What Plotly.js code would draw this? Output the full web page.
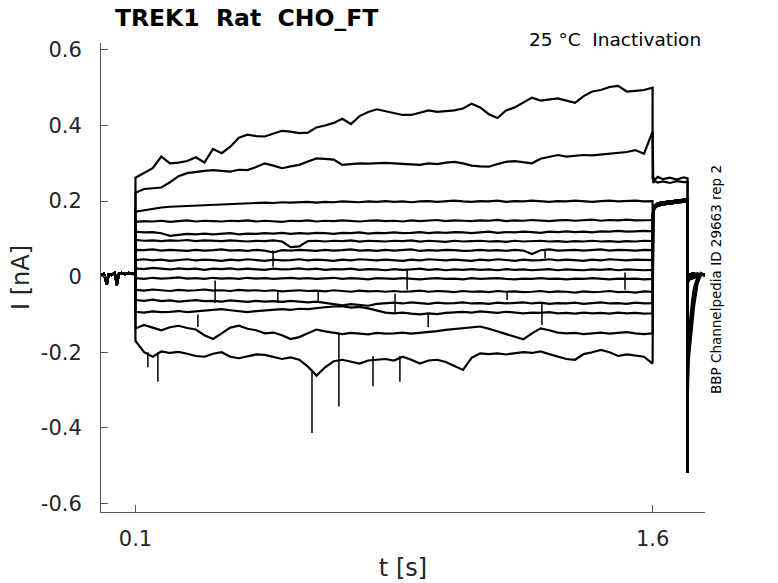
<!DOCTYPE html>
<html>
<head>
<meta charset="utf-8">
<script src="https://cdn.plot.ly/plotly-3.0.1.min.js"></script>
<style>html,body{margin:0;padding:0;background:#fff;}#chart{width:778px;height:583px;}</style>
</head>
<body>
<div id="chart"></div>
<script>
// ---- time grids (s) ----
const tPre = [0, 0.008, 0.017, 0.022, 0.03, 0.04, 0.046, 0.052, 0.06, 0.07, 0.08, 0.09, 0.0999];
const tMain = [0.1,0.125,0.15,0.175,0.2,0.225,0.25,0.275,0.3,0.325,0.35,0.375,0.4,0.425,0.45,0.475,0.5,0.525,0.55,0.575,0.6,0.625,0.65,0.675,0.7,0.725,0.75,0.775,0.8,0.825,0.85,0.875,0.9,0.925,0.95,0.975,1.0,1.025,1.05,1.075,1.1,1.125,1.15,1.175,1.2,1.225,1.25,1.275,1.3,1.325,1.35,1.375,1.4,1.425,1.45,1.475,1.5,1.525,1.55,1.575,1.6];
const tTail = [1.6, 1.602, 1.606, 1.615, 1.63, 1.65, 1.67, 1.69, 1.7015];
const tRec = [1.7015, 1.7025, 1.705, 1.71, 1.715, 1.72, 1.73, 1.74, 1.752];

// ---- currents (nA) ----
const iPre = [0.004, 0.008, -0.02, 0.006, 0.004, 0.01, -0.022, 0.008, 0.01, 0.006, 0.01, 0.008, 0.006];

const sweep1 = [0.262,0.275,0.287,0.318,0.300,0.302,0.306,0.316,0.302,0.338,0.327,0.344,0.368,0.376,0.372,0.371,0.378,0.386,0.384,0.380,0.381,0.395,0.400,0.407,0.418,0.404,0.425,0.436,0.443,0.438,0.432,0.428,0.428,0.435,0.440,0.436,0.438,0.440,0.445,0.458,0.448,0.430,0.420,0.440,0.448,0.462,0.474,0.466,0.470,0.472,0.466,0.460,0.478,0.490,0.494,0.502,0.505,0.490,0.492,0.494,0.500];
const sweep2 = [0.222,0.232,0.234,0.236,0.250,0.266,0.274,0.278,0.280,0.282,0.280,0.278,0.283,0.282,0.290,0.300,0.294,0.287,0.292,0.296,0.305,0.313,0.312,0.310,0.296,0.298,0.300,0.299,0.300,0.301,0.300,0.298,0.297,0.296,0.300,0.298,0.302,0.304,0.300,0.294,0.292,0.291,0.298,0.304,0.306,0.303,0.300,0.312,0.318,0.322,0.318,0.320,0.322,0.321,0.323,0.325,0.327,0.330,0.335,0.325,0.384];
const sweep3 = [0.172,0.176,0.180,0.183,0.185,0.186,0.188,0.189,0.190,0.191,0.192,0.193,0.194,0.195,0.194,0.196,0.195,0.197,0.196,0.197,0.198,0.196,0.198,0.197,0.199,0.198,0.197,0.199,0.198,0.200,0.198,0.199,0.197,0.199,0.200,0.198,0.199,0.201,0.199,0.198,0.200,0.199,0.201,0.198,0.200,0.199,0.201,0.200,0.198,0.200,0.199,0.201,0.200,0.198,0.200,0.201,0.199,0.200,0.201,0.199,0.200];
const sweep4 = [0.145,0.147,0.146,0.148,0.145,0.147,0.149,0.146,0.148,0.147,0.146,0.148,0.147,0.149,0.146,0.148,0.147,0.145,0.148,0.147,0.149,0.146,0.148,0.147,0.149,0.147,0.146,0.148,0.149,0.147,0.148,0.146,0.149,0.147,0.148,0.150,0.147,0.149,0.148,0.147,0.149,0.148,0.150,0.147,0.149,0.148,0.150,0.149,0.147,0.149,0.150,0.148,0.149,0.151,0.148,0.150,0.149,0.151,0.149,0.150,0.150];
const sweep5 = [0.119,0.117,0.118,0.115,0.108,0.110,0.113,0.112,0.114,0.112,0.113,0.115,0.112,0.114,0.113,0.115,0.114,0.116,0.113,0.115,0.114,0.116,0.115,0.113,0.116,0.115,0.117,0.114,0.116,0.115,0.117,0.115,0.116,0.118,0.115,0.117,0.116,0.118,0.117,0.115,0.117,0.119,0.116,0.118,0.117,0.119,0.118,0.116,0.119,0.118,0.120,0.118,0.119,0.117,0.120,0.119,0.121,0.119,0.120,0.121,0.120];
const sweep6 = [0.097,0.095,0.096,0.094,0.096,0.095,0.097,0.094,0.096,0.095,0.094,0.096,0.095,0.093,0.095,0.094,0.096,0.093,0.078,0.080,0.094,0.095,0.093,0.095,0.094,0.096,0.093,0.095,0.094,0.093,0.095,0.094,0.096,0.093,0.095,0.094,0.092,0.095,0.093,0.094,0.095,0.093,0.094,0.092,0.095,0.093,0.094,0.095,0.093,0.094,0.092,0.094,0.093,0.095,0.093,0.094,0.092,0.094,0.093,0.095,0.094];
const sweep7 = [0.071,0.070,0.072,0.069,0.071,0.070,0.068,0.071,0.069,0.070,0.072,0.069,0.070,0.068,0.071,0.069,0.064,0.070,0.069,0.071,0.070,0.068,0.071,0.069,0.070,0.072,0.069,0.070,0.068,0.071,0.069,0.070,0.072,0.068,0.070,0.069,0.071,0.070,0.068,0.069,0.071,0.069,0.070,0.068,0.071,0.069,0.060,0.070,0.072,0.069,0.070,0.071,0.069,0.070,0.072,0.069,0.071,0.070,0.069,0.071,0.070];
const sweep8 = [0.044,0.046,0.043,0.045,0.042,0.044,0.046,0.043,0.045,0.044,0.042,0.045,0.043,0.046,0.044,0.042,0.045,0.043,0.044,0.046,0.043,0.045,0.044,0.042,0.045,0.043,0.046,0.044,0.043,0.045,0.044,0.042,0.045,0.043,0.046,0.044,0.043,0.045,0.044,0.042,0.045,0.043,0.046,0.044,0.042,0.045,0.043,0.044,0.046,0.043,0.045,0.044,0.042,0.045,0.043,0.046,0.044,0.043,0.045,0.044,0.044];
const sweep9 = [0.022,0.020,0.023,0.021,0.019,0.022,0.020,0.021,0.018,0.021,0.020,0.022,0.019,0.021,0.020,0.018,0.021,0.019,0.020,0.022,0.019,0.021,0.018,0.020,0.019,0.021,0.018,0.020,0.019,0.017,0.020,0.018,0.019,0.021,0.018,0.020,0.017,0.019,0.018,0.020,0.018,0.019,0.017,0.020,0.018,0.019,0.017,0.018,0.020,0.017,0.019,0.018,0.017,0.019,0.018,0.020,0.017,0.019,0.018,0.017,0.018];
const sweep10 = [-0.004,-0.006,-0.003,-0.005,-0.004,-0.002,-0.005,-0.004,-0.006,-0.003,-0.005,-0.004,-0.006,-0.003,-0.005,-0.004,-0.006,-0.005,-0.003,-0.005,-0.004,-0.006,-0.005,-0.003,-0.006,-0.004,-0.005,-0.007,-0.004,-0.005,-0.006,-0.004,-0.005,-0.007,-0.005,-0.004,-0.006,-0.005,-0.007,-0.004,-0.006,-0.005,-0.004,-0.006,-0.007,-0.005,-0.006,-0.004,-0.006,-0.005,-0.007,-0.005,-0.006,-0.004,-0.006,-0.007,-0.005,-0.006,-0.005,-0.007,-0.006];
const sweep11 = [-0.035,-0.037,-0.034,-0.036,-0.038,-0.035,-0.037,-0.036,-0.034,-0.037,-0.036,-0.038,-0.035,-0.037,-0.036,-0.038,-0.036,-0.039,-0.037,-0.036,-0.038,-0.037,-0.039,-0.036,-0.038,-0.040,-0.037,-0.039,-0.038,-0.040,-0.038,-0.040,-0.039,-0.037,-0.040,-0.038,-0.039,-0.041,-0.038,-0.040,-0.039,-0.041,-0.038,-0.040,-0.039,-0.041,-0.040,-0.038,-0.041,-0.039,-0.040,-0.042,-0.039,-0.041,-0.040,-0.038,-0.041,-0.040,-0.042,-0.039,-0.040];
const sweep12 = [-0.062,-0.064,-0.061,-0.065,-0.063,-0.066,-0.064,-0.062,-0.065,-0.064,-0.066,-0.063,-0.065,-0.067,-0.064,-0.066,-0.065,-0.067,-0.064,-0.066,-0.068,-0.066,-0.069,-0.074,-0.076,-0.073,-0.075,-0.077,-0.072,-0.070,-0.069,-0.071,-0.068,-0.070,-0.072,-0.069,-0.071,-0.070,-0.068,-0.071,-0.070,-0.072,-0.069,-0.071,-0.070,-0.068,-0.071,-0.069,-0.072,-0.070,-0.071,-0.069,-0.072,-0.070,-0.068,-0.071,-0.070,-0.072,-0.069,-0.071,-0.070];
const sweep13 = [-0.093,-0.095,-0.092,-0.094,-0.093,-0.091,-0.094,-0.092,-0.090,-0.088,-0.086,-0.089,-0.092,-0.094,-0.091,-0.089,-0.087,-0.086,-0.088,-0.085,-0.086,-0.083,-0.081,-0.079,-0.078,-0.082,-0.080,-0.084,-0.090,-0.095,-0.097,-0.095,-0.098,-0.100,-0.097,-0.099,-0.096,-0.094,-0.093,-0.095,-0.092,-0.094,-0.096,-0.093,-0.095,-0.097,-0.095,-0.096,-0.094,-0.097,-0.096,-0.098,-0.095,-0.097,-0.096,-0.098,-0.095,-0.097,-0.096,-0.098,-0.097];
const sweep14 = [-0.137,-0.128,-0.135,-0.142,-0.134,-0.130,-0.136,-0.140,-0.155,-0.165,-0.150,-0.135,-0.130,-0.138,-0.142,-0.150,-0.148,-0.155,-0.165,-0.160,-0.150,-0.140,-0.145,-0.148,-0.152,-0.149,-0.150,-0.153,-0.149,-0.151,-0.150,-0.148,-0.151,-0.149,-0.146,-0.144,-0.141,-0.139,-0.136,-0.133,-0.132,-0.138,-0.145,-0.150,-0.158,-0.166,-0.150,-0.137,-0.142,-0.148,-0.150,-0.149,-0.152,-0.150,-0.148,-0.151,-0.149,-0.147,-0.150,-0.152,-0.150];
const sweep15 = [-0.170,-0.200,-0.212,-0.198,-0.202,-0.199,-0.204,-0.210,-0.212,-0.204,-0.200,-0.212,-0.216,-0.210,-0.206,-0.207,-0.212,-0.218,-0.214,-0.220,-0.238,-0.262,-0.240,-0.224,-0.220,-0.226,-0.230,-0.222,-0.220,-0.218,-0.222,-0.212,-0.220,-0.230,-0.222,-0.220,-0.226,-0.236,-0.247,-0.215,-0.203,-0.205,-0.203,-0.206,-0.203,-0.200,-0.202,-0.198,-0.205,-0.212,-0.218,-0.220,-0.205,-0.200,-0.194,-0.200,-0.210,-0.206,-0.210,-0.212,-0.230];

// second step (1.6 - 1.7 s)
const tailHighA = [0.258, 0.262, 0.256, 0.264, 0.258, 0.262, 0.257, 0.263, 0.26];
const tailHighB = [0.250, 0.248, 0.253, 0.249, 0.252, 0.248, 0.253, 0.25, 0.251];
const tailLowA = [0.155, 0.172, 0.182, 0.188, 0.191, 0.193, 0.196, 0.199, 0.2];
const tailLowB = [0.16, 0.178, 0.188, 0.194, 0.197, 0.199, 0.201, 0.204, 0.205];

// return to holding (after 1.7 s)
const recFastA = [-0.52, -0.01, 0.006, -0.008, 0.01, -0.004, 0.008, 0.004, 0.006];
const recFastB = [-0.52, 0.004, -0.012, 0.008, -0.006, 0.01, -0.002, 0.009, 0.002];
const recSlowA = [-0.52, -0.3, -0.22, -0.17, -0.12, -0.08, -0.02, 0.004, 0.006];
const recSlowB = [-0.45, -0.25, -0.19, -0.14, -0.1, -0.06, -0.01, 0.006, 0.004];
const recSlowC = [-0.4, -0.2, -0.15, -0.1, -0.06, -0.03, 0.0, 0.005, 0.004];

// brief downward transients (t, from, to)
const spikeT = [0.136, 0.165, 0.281, 0.331, 0.499, 0.513, 0.612, 0.630, 0.690, 0.789, 0.853, 0.867, 0.888, 0.949, 1.178, 1.279, 1.288, 1.52];
const spikeFrom = [-0.20, -0.20, -0.10, -0.01, 0.07, -0.04, -0.25, -0.04, -0.15, -0.21, -0.045, -0.21, 0.018, -0.097, -0.04, -0.07, 0.071, 0.011];
const spikeTo = [-0.24, -0.278, -0.133, -0.07, 0.026, -0.07, -0.414, -0.07, -0.344, -0.29, -0.097, -0.278, -0.035, -0.133, -0.062, -0.128, 0.049, -0.035];

const sweeps = [sweep1, sweep2, sweep3, sweep4, sweep5, sweep6, sweep7, sweep8, sweep9, sweep10, sweep11, sweep12, sweep13, sweep14, sweep15];
const tails = [tailHighA, tailHighB, tailLowA, tailLowB, tailLowA, tailLowB, tailLowA, tailLowB, tailLowA, tailLowB, tailLowA, tailLowB, tailLowA, tailLowB, tailLowA];
const recs = [recSlowA, recFastA, recSlowB, recFastB, recFastA, recSlowC, recFastB, recFastA, recFastB, recFastA, recFastB, recFastA, recFastB, recFastA, recFastB];

const lineStyle = {color: '#000000', width: 2.2};
const data = sweeps.map((s, k) => ({
  type: 'scatter', mode: 'lines', hoverinfo: 'skip', showlegend: false,
  x: tPre.concat(tMain, tTail, tRec),
  y: iPre.concat(s, tails[k], recs[k]),
  line: lineStyle
}));

const sx = [], sy = [];
spikeT.forEach((t, k) => { sx.push(t, t, null); sy.push(spikeFrom[k], spikeTo[k], null); });
data.push({type: 'scatter', mode: 'lines', x: sx, y: sy, showlegend: false, hoverinfo: 'skip',
  line: {color: '#000000', width: 1.5}, connectgaps: false});

const font = 'DejaVu Sans, Verdana, sans-serif';
const layout = {
  width: 778, height: 583,
  margin: {l: 101, r: 73, t: 43, b: 71, pad: 0},
  paper_bgcolor: '#ffffff', plot_bgcolor: '#ffffff',
  showlegend: false,
  font: {family: font, color: '#262626'},
  title: {
    text: 'TREK1\u00a0\u00a0Rat\u00a0\u00a0CHO_FT',
    font: {family: font, size: 23.5, color: '#000000', weight: 'bold'},
    xref: 'paper', x: 0.023, xanchor: 'left',
    yref: 'container', y: 0.969, yanchor: 'middle'
  },
  xaxis: {
    range: [0, 1.752], tickvals: [0.1, 1.6], ticktext: ['0.1', '1.6'],
    ticks: 'inside', ticklen: 7, tickwidth: 1, tickcolor: '#555555',
    showline: true, linecolor: '#555555', linewidth: 1,
    showgrid: false, zeroline: false,
    tickfont: {family: font, size: 21, color: '#262626'},
    ticklabelstandoff: 8,
    title: {text: 't [s]', font: {family: font, size: 24, color: '#262626'}, standoff: 8}
  },
  yaxis: {
    range: [-0.623, 0.6185], tickvals: [-0.6, -0.4, -0.2, 0, 0.2, 0.4, 0.6],
    ticktext: ['-0.6', '-0.4', '-0.2', '0', '0.2', '0.4', '0.6'],
    ticks: 'inside', ticklen: 7, tickwidth: 1, tickcolor: '#555555',
    showline: true, linecolor: '#555555', linewidth: 1,
    showgrid: false, zeroline: false,
    tickfont: {family: font, size: 21, color: '#262626'},
    ticklabelstandoff: 14,
    title: {text: 'I [nA]', font: {family: font, size: 24, color: '#262626'}, standoff: 4}
  },
  annotations: [
    {text: '25 °C\u00a0\u00a0Inactivation', xref: 'paper', yref: 'paper', x: 0.9967, y: 1.0064,
     xanchor: 'right', yanchor: 'middle', showarrow: false,
     font: {family: font, size: 18.5, color: '#000000'}},
    {text: 'BBP Channelpedia ID 29663 rep 2', xref: 'paper', yref: 'paper', x: 1.0182, y: 0.4968,
     xanchor: 'center', yanchor: 'middle', textangle: -90, showarrow: false,
     font: {family: font, size: 13.5, color: '#000000'}}
  ]
};

Plotly.newPlot('chart', data, layout, {staticPlot: true, displayModeBar: false});
</script>
</body>
</html>
